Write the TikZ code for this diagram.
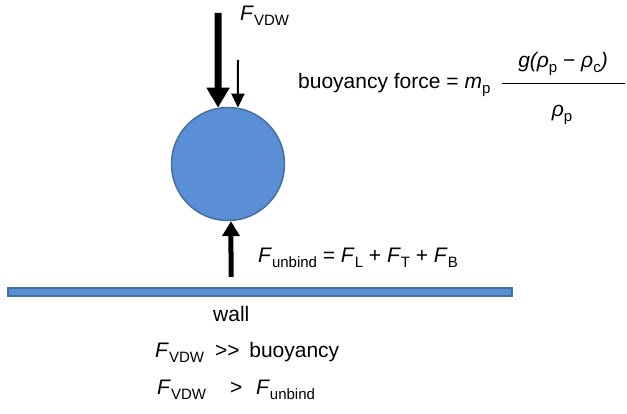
\documentclass[tikz,border=0pt]{standalone}
\usepackage{fontspec}
\setmainfont{Liberation Sans}
\usepackage{tikz}
\usetikzlibrary{arrows.meta,positioning}
\definecolor{Ink}{HTML}{000000}
\definecolor{Ball}{HTML}{5B8FD5}
\definecolor{BallEdge}{HTML}{41719C}
\newcommand{\lowsub}[1]{\raisebox{-5pt}{\fontsize{15}{15}\selectfont #1}}
\tikzset{
  txt/.style={anchor=base west, inner sep=0pt, text=Ink,
    font=\fontsize{21}{25}\selectfont},
  ctxt/.style={txt, anchor=base},
  bigforce/.style={-{Triangle[width=22pt,length=20pt]}, line width=7pt, draw=Ink},
  smallforce/.style={-{Triangle[width=13pt,length=14pt]}, line width=2pt, draw=Ink},
  upforce/.style={-{Triangle[width=17pt,length=15pt]}, line width=5pt, draw=Ink},
  fracbar/.style={line width=0.9pt, draw=Ink}
}

\begin{document}
\begin{tikzpicture}[x=1pt,y=-1pt]
    \useasboundingbox (0,0) rectangle (627,414);
    \node[circle, fill=Ball, draw=BallEdge, line width=1.5pt, minimum size=113pt,
      inner sep=0pt] (particle) at (228,164) {};
    \node[rectangle, fill=Ball, draw=BallEdge, line width=1.5pt, minimum width=504pt,
      minimum height=8pt, inner sep=0pt] (wall) at (260,292) {};
    \coordinate (vdwtop) at (218,13);
    \coordinate (vdwsmall) at (238,60);
    \coordinate (unbindfoot) at (231,277);
    \coordinate (fracleft) at (502,83);
    \coordinate (fracright) at (625,83);
    \node[txt] (vdwlabel) at (240,21) {\textit{F}\lowsub{VDW}};
    \node[txt] (buoyancy) at (298,89) {buoyancy force = \textit{m}\lowsub{p}};
    \node[ctxt] (numer) at (563,68) {\textit{g(ρ}\lowsub{p} − \textit{ρ}\lowsub{c}\textit{)}};
    \node[ctxt] (denom) at (562,117) {\textit{ρ}\lowsub{p}};
    \node[txt] (unbind) at (258,263) {\textit{F}\lowsub{unbind} = \textit{F}\lowsub{L} + \textit{F}\lowsub{T} + \textit{F}\lowsub{B}};
    \node[txt] (walltext) at (213,322) {wall};
    \node[txt] (relbuoy) at (155,357) {\textit{F}\lowsub{VDW}\hspace{11pt}>\kern0pt>\hspace{4pt} buoyancy};
    \node[txt] (relunbind) at (157,394) {\textit{F}\lowsub{VDW}\hspace{24pt}>\hspace{8pt} \textit{F}\lowsub{unbind}};
    \draw[bigforce] (vdwtop) -- (particle.100);
    \draw[smallforce] (vdwsmall) -- (particle.80);
    \draw[upforce] (unbindfoot) -- (particle.-87);
    \draw[fracbar] (fracleft) -- (fracright);
  \end{tikzpicture}
\end{document}
